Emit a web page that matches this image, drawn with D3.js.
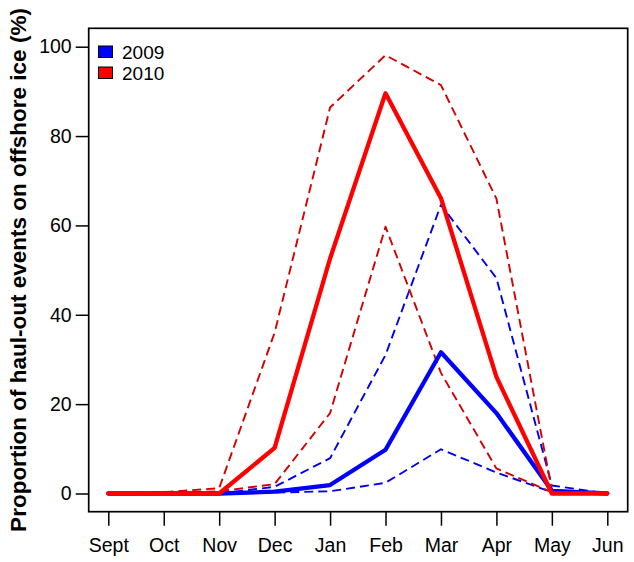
<!DOCTYPE html>
<html>
<head>
<meta charset="utf-8">
<script src="https://cdn.jsdelivr.net/npm/d3@7"></script>
<style>
  html, body { margin: 0; padding: 0; background: #fff; }
  svg { display: block; font-family: "Liberation Sans", Arial, sans-serif; }
</style>
</head>
<body>
<svg id="chart" width="634" height="562"></svg>
<script>
const months = ["Sept","Oct","Nov","Dec","Jan","Feb","Mar","Apr","May","Jun"];
const yTicks = [0, 20, 40, 60, 80, 100];
const mean2009  = [0, 0, 0, 0.4, 1.9, 9.8, 31.6, 18.0, 0.6, 0];
const upper2009 = [0, 0, 0, 1.5, 7.9, 31.0, 64.6, 48.2, 1.8, 0];
const lower2009 = [0, 0, 0, 0.2, 0.5, 2.4, 9.9, 4.7, 0.3, 0];
const mean2010  = [0, 0, 0, 10.2, 52.6, 89.6, 66.1, 26.1, 0, 0];
const upper2010 = [0, 0.3, 1.2, 36.0, 86.4, 98.1, 91.4, 66.0, 0.8, 0];
const lower2010 = [0, 0, 0.5, 2.1, 18.0, 59.7, 27.0, 5.6, 0.3, 0];
const legendLabels = ["2009", "2010"];

const svg = d3.select("#chart");
const box = {left: 88.7, top: 28.3, right: 627.7, bottom: 511.7};

const x = d3.scalePoint().domain(months).range([108.3, 607.3]);
const y = d3.scaleLinear().domain([0, 100]).range([493.5, 46.7]);

const blue = "#0000ff", red = "#ff0000", redDash = "#d40000", blueDash = "#0000ee";

const line = d3.line().x((d, i) => x(months[i])).y(d => y(d));

const series = [
  {data: lower2009, color: blueDash, w: 1.9, dash: "9,5"},
  {data: upper2009, color: blueDash, w: 1.9, dash: "9,5"},
  {data: lower2010, color: redDash, w: 1.9, dash: "9,5"},
  {data: upper2010, color: redDash, w: 1.9, dash: "9,5"},
  {data: mean2009, color: blue, w: 4.3, dash: null},
  {data: mean2010, color: red, w: 4.3, dash: null}
];

series.forEach(s => {
  svg.append("path")
    .attr("d", line(s.data))
    .attr("fill", "none")
    .attr("stroke", s.color)
    .attr("stroke-width", s.w)
    .attr("stroke-linejoin", "round")
    .attr("stroke-linecap", s.dash ? "butt" : "round")
    .attr("stroke-dasharray", s.dash);
});

// box
svg.append("rect")
  .attr("x", box.left).attr("y", box.top)
  .attr("width", box.right - box.left).attr("height", box.bottom - box.top)
  .attr("fill", "none").attr("stroke", "#000").attr("stroke-width", 1.7);

// y axis
const yAxis = d3.axisLeft(y).tickValues(yTicks).tickSize(13).tickPadding(4).tickFormat(d3.format("d"));
const gy = svg.append("g").attr("transform", `translate(${box.left},0)`).call(yAxis);
gy.select(".domain").remove();
gy.selectAll(".tick line").attr("stroke", "#000").attr("stroke-width", 1.5);
gy.selectAll(".tick text").attr("font-size", 19.5).attr("fill", "#000")
  .attr("font-family", "Liberation Sans, Arial, sans-serif");

// x axis
const xAxis = d3.axisBottom(x).tickSize(14).tickPadding(12);
const gx = svg.append("g").attr("transform", `translate(0,${box.bottom})`).call(xAxis);
gx.select(".domain").remove();
gx.selectAll(".tick line").attr("stroke", "#000").attr("stroke-width", 1.5);
gx.selectAll(".tick text").attr("font-size", 19.5).attr("fill", "#000")
  .attr("font-family", "Liberation Sans, Arial, sans-serif");

// y title
svg.append("text")
  .attr("transform", `translate(26,${(box.top + box.bottom) / 2}) rotate(-90)`)
  .attr("text-anchor", "middle")
  .attr("font-size", 22.5)
  .attr("font-weight", "bold")
  .attr("fill", "#000")
  .text("Proportion of haul-out events on offshore ice (%)");

// legend
const legColors = [blue, red];
legendLabels.forEach((lab, i) => {
  const yy = 46 + i * 21;
  svg.append("rect").attr("x", 98.5).attr("y", yy).attr("width", 14).attr("height", 11.5)
    .attr("fill", legColors[i]).attr("stroke", "#000").attr("stroke-width", 1);
  svg.append("text").attr("x", 122).attr("y", yy + 12.5)
    .attr("font-size", 19).attr("fill", "#000").text(lab);
});
</script>
</body>
</html>
